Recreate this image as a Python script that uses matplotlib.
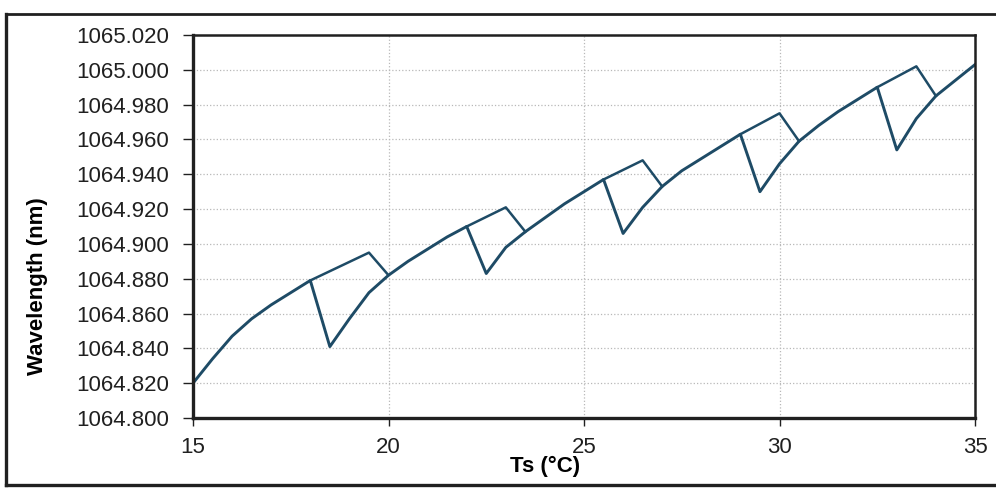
import numpy as np
import matplotlib
matplotlib.use('Agg')
from matplotlib import pyplot as plt
from matplotlib.lines import Line2D

plt.rcParams['font.family'] = ['Liberation Sans', 'DejaVu Sans']

# Main branch (temperature in C, wavelength in nm)
ts_main = [15, 15.5, 16, 16.5, 17, 17.5, 18, 18.5, 19, 19.5, 20,
           20.5, 21, 21.5, 22, 22.5, 23, 23.5, 24, 24.5, 25, 25.5,
           26, 26.5, 27, 27.5, 28, 28.5, 29, 29.5, 30, 30.5, 31,
           31.5, 32, 32.5, 33, 33.5, 34, 34.5, 35]
wl_main = [1064.820, 1064.834, 1064.847, 1064.857, 1064.865, 1064.872,
           1064.879, 1064.841, 1064.857, 1064.872, 1064.882,
           1064.890, 1064.897, 1064.904, 1064.910, 1064.883, 1064.898,
           1064.907, 1064.915, 1064.923, 1064.930, 1064.937,
           1064.906, 1064.921, 1064.933, 1064.942, 1064.949, 1064.956,
           1064.963, 1064.930, 1064.946, 1064.959, 1064.968,
           1064.976, 1064.983, 1064.990, 1064.954, 1064.972, 1064.985,
           1064.994, 1065.003]

# Upper branches (kink -> peak -> rejoin), separated by gaps
ts_upper = [18, 19.5, 20, np.nan, 22, 23, 23.5, np.nan, 25.5, 26.5, 27,
            np.nan, 29, 30, 30.5, np.nan, 32.5, 33.5, 34]
wl_upper = [1064.879, 1064.895, 1064.882, np.nan, 1064.910, 1064.921,
            1064.907, np.nan, 1064.937, 1064.948, 1064.933, np.nan,
            1064.963, 1064.975, 1064.959, np.nan, 1064.990, 1065.002,
            1064.985]

line_color = '#1e4b66'

fig = plt.figure(figsize=(9.96, 4.88), dpi=100)
ax = fig.add_axes([193/996, 1 - 418/488, (975-193)/996, (418-35)/488])

ax.plot(ts_main, wl_main, color=line_color, linewidth=2.1,
        solid_joinstyle='round')
ax.plot(ts_upper, wl_upper, color=line_color, linewidth=1.8)

ax.set_xlim(15, 35)
ax.set_ylim(1064.800, 1065.020)
ax.set_xticks([15, 20, 25, 30, 35])
ax.set_yticks(np.arange(1064.800, 1065.0201, 0.020))
ax.yaxis.set_major_formatter(matplotlib.ticker.FormatStrFormatter('%.3f'))

ax.grid(True, color='#b8b8b8', linestyle=':', linewidth=0.9)
ax.set_axisbelow(True)

for side in ['left', 'bottom']:
    ax.spines[side].set_linewidth(2.4)
    ax.spines[side].set_color('#202020')
for side in ['top', 'right']:
    ax.spines[side].set_linewidth(1.8)
    ax.spines[side].set_color('#202020')

ax.tick_params(axis='y', direction='out', length=7, width=1.0,
               pad=10, labelsize=16, colors='#202020')
ax.tick_params(axis='x', direction='out', length=6, width=1.0,
               pad=8, labelsize=16, colors='#202020')

ax.set_xlabel('Ts (°C)', fontsize=16, fontweight='bold')
ax.xaxis.set_label_coords(0.45, -0.098)
ax.set_ylabel('Wavelength (nm)', fontsize=16, fontweight='bold')
ax.yaxis.set_label_coords(-0.186, 0.345)

# outer chart border (right edge cropped)
fig.add_artist(Line2D([6/996, 6/996], [3/488, 1 - 14/488],
                      color='#202020', linewidth=2.4))
fig.add_artist(Line2D([6/996, 1.0], [1 - 14/488, 1 - 14/488],
                      color='#202020', linewidth=2.0))
fig.add_artist(Line2D([6/996, 1.0], [3/488, 3/488],
                      color='#202020', linewidth=2.4))

fig.savefig('out.png', dpi=100)
